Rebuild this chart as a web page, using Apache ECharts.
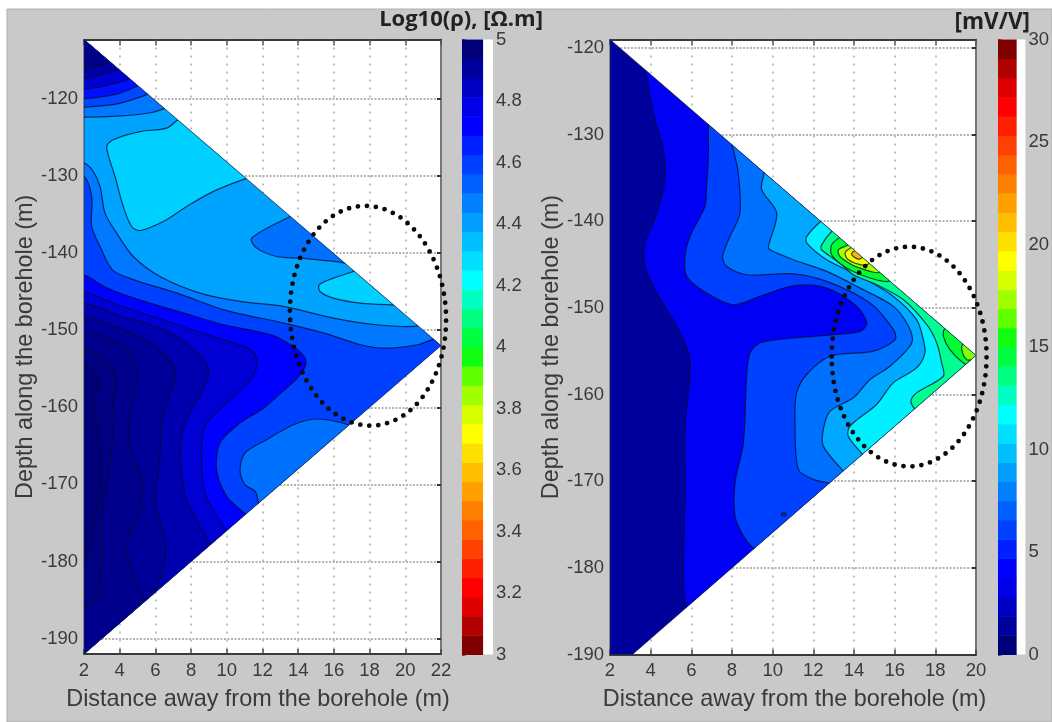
<!DOCTYPE html>
<html><head><meta charset="utf-8">
<style>html,body{margin:0;padding:0;background:#fff;overflow:hidden}#c{width:1052px;height:722px}</style>
<script src="https://cdn.jsdelivr.net/npm/echarts@6/dist/echarts.min.js"></script>
</head><body><div id="c"></div>
<script>
// ---- axes ----
const leftDepthTicks=[-190,-180,-170,-160,-150,-140,-130,-120];
const rightDepthTicks=[-190,-180,-170,-160,-150,-140,-130,-120];
const leftDepthRange=[-192,-112.3];
const rightDepthRange=[-190,-119.05];
const leftDistanceRange=[2,22];
const rightDistanceRange=[2,20];
const leftScaleRange=[3,5];
const rightScaleRange=[0,30];
// ---- colour scale, value order low to high on the right plot ----
const jetColors=['#000078','#00009c','#0000c4','#0000e8','#0000ff','#0020ff','#0040ff','#0060ff','#0080ff','#009fff','#00bfff','#00dfff','#00ffff','#00ffc0','#00ff80','#00ff40','#10ff10','#60ff00','#a0ff00','#d8ff00','#ffff00','#ffdf00','#ffbf00','#ff9f00','#ff8000','#ff6000','#ff4000','#ff2000','#ff0000','#df0000','#b00000','#800000'];
// ---- left plot domain and filled contour regions (distance m, depth m) ----
const leftDomain=[[2,-112.3],[22,-152],[2,-192]];
const lBase=[[1,-110],[24,-110],[24,-195],[1,-195]];
const lIslandA=[[7.5,-122.5],[6.63,-123.8],[5.14,-124.24],[3.64,-125.3],[3.27,-126.2],[3.74,-130.07],[4.2,-133.96],[4.67,-136.55],[5.14,-137.07],[6.44,-135.9],[7.75,-133.96],[9.25,-132],[11.02,-130.37],[11.8,-129.9],[9,-124]];
const lPatchB=[[14.3,-134.3],[13.54,-135.25],[11.39,-138.06],[11.67,-139.36],[12.79,-140.44],[14.1,-140.66],[16.1,-141.1],[17,-141.2],[16.6,-138]];
const lIslandC=[[17.8,-141.7],[17.09,-142.39],[15.97,-143.25],[15.18,-144.11],[15.22,-144.98],[15.97,-145.84],[17.46,-146.49],[19.24,-146.71],[20,-146.7],[18.5,-143.5]];
const lTopD=[[1,-122.4],[2,-122.38],[3.87,-122.25],[5.73,-121.8],[6.57,-121.2],[7.2,-120.5],[6,-112],[1,-110]];
const lTopE=[[1,-121.1],[2,-121.08],[3.87,-120.65],[5.64,-119.35],[6.4,-118.5],[5,-111],[1,-110]];
const lTopF=[[1,-120],[2,-120],[3.87,-119.35],[5.08,-118.27],[5.8,-117.5],[5,-111],[1,-110]];
const lTopG=[[1,-118.7],[2,-118.7],[3.12,-118.36],[4.52,-117.4],[5.2,-116.5],[4,-111],[1,-110]];
const lTopH=[[1,-117.3],[2,-117.3],[3.12,-116.76],[4.05,-116.1],[4.8,-115.3],[4,-111],[1,-110]];
const lTopI=[[1,-116.1],[2,-116.1],[3.03,-115.6],[3.8,-114.8],[3,-111],[1,-110]];
const lLowJ=[[1,-128.3],[2,-128.34],[2.52,-129.42],[2.9,-131.37],[3.18,-134.82],[3.83,-137.42],[4.76,-140.44],[6.26,-143.03],[8.5,-145.19],[10.74,-146.27],[13.17,-146.92],[15.97,-148.43],[18.4,-149.3],[20.45,-149.52],[21.5,-149],[24,-152],[21,-195],[1,-196]];
const lLowK=[[1,-130],[2,-130.07],[2.43,-132.66],[2.43,-136.55],[2.9,-139.14],[3.59,-142.17],[4.8,-143.47],[7.23,-145.2],[9.84,-147.36],[13.2,-149.08],[15.45,-150.38],[17.5,-151.89],[18.8,-152.33],[20.67,-151.89],[21.8,-151],[24,-150],[24,-154],[21,-195],[1,-196]];
const lPatchBottom=[[18,-164.5],[17.4,-163.2],[16.81,-162.26],[15.03,-161.52],[13.73,-162.26],[12.23,-164.2],[11.02,-165.93],[10.74,-168.09],[11.02,-170.04],[11.58,-170.9],[11.77,-172.33],[11.9,-174],[14,-176],[20,-170]];
const lLowL=[[1,-142.8],[2,-142.82],[3.12,-144.33],[4.8,-145.84],[7.6,-147.79],[9.84,-149.3],[12.46,-150.6],[13.58,-151.89],[14.33,-153.4],[14.42,-154.49],[13.95,-156.21],[13.02,-158.16],[12.08,-160.1],[10.74,-162.04],[9.62,-164.63],[9.43,-168.09],[9.99,-171.55],[11.02,-173.8],[11.6,-175],[11,-195],[1,-196]];
const lLowM=[[1,-145],[2,-144.98],[3.87,-146.71],[6.67,-148.87],[9.47,-151.03],[11.34,-152.54],[11.71,-154.27],[11.34,-156.43],[10.2,-159.02],[8.87,-162.04],[8.59,-165.07],[8.78,-171.1],[9.99,-176.1],[10.6,-178],[9,-195],[1,-196]];
const lLowN=[[1,-146.5],[2,-146.49],[3.87,-148],[6.67,-150.16],[8.54,-153.4],[9,-155.57],[8.54,-158.16],[7.75,-161.61],[7.4,-165],[7.75,-172],[9.06,-177.6],[9.6,-180],[8,-195],[1,-196]];
const lLowO=[[1,-148.2],[2,-148.22],[3.49,-149.3],[5.73,-151.68],[7.04,-154.7],[7.04,-156.86],[6.48,-160.32],[6.3,-164.21],[6.2,-168],[6,-172],[6.6,-178],[6.3,-182],[5.7,-185],[5.5,-187],[4,-195],[1,-196]];
const lLowP=[[1,-150.2],[2,-150.17],[3.12,-150.81],[4.61,-152.97],[4.99,-156],[4.71,-159.46],[4.52,-164.21],[5,-168],[5.3,-170],[5,-174],[4.4,-178],[4.8,-182],[5.4,-185.5],[5.5,-188],[3,-195],[1,-196]];
const lLowQ=[[1,-152.3],[2,-152.33],[3.12,-153.84],[3.77,-156.43],[3.59,-160.32],[3.59,-164.21],[3.4,-168],[3,-174],[3,-180],[2.8,-184],[2,-186.3],[1,-186.4]];
const lLowR=[[1,-154.3],[2,-154.27],[2.75,-156.43],[2.56,-159.45],[2.84,-164.21],[2.9,-170],[2.5,-176],[2,-180.5],[1,-181]];
const leftContours=[lBase,lIslandA,lPatchB,lIslandC,lTopD,lTopE,lTopF,lTopG,lTopH,lTopI,lLowJ,lLowK,lPatchBottom,lLowL,lLowM,lLowN,lLowO,lLowP,lLowQ,lLowR];
const leftContourColors=['#00a4ff','#00d0ff','#0070ff','#00d0ff','#0078ff','#0048ff','#0010ff','#0000d0','#0000a8','#000088','#0078ff','#0040ff','#0070ff','#0000ff','#0000d4','#0000b0','#000098','#00008c','#000082','#00007a'];
// ---- right plot domain and contour regions ----
const rightDomain=[[2,-119.05],[20,-155.5],[3.1,-190],[2,-190]];
const rBase=[[1,-117],[24,-117],[24,-192],[1,-192]];
const rBandA=[[3.7,-121],[3.84,-123.72],[4.13,-127.57],[4.62,-131.79],[4.7,-135.25],[4.3,-139.09],[3.72,-142.54],[3.72,-145.23],[4.3,-148.3],[5.28,-152.14],[5.93,-155.98],[5.69,-163.66],[5.69,-171.34],[5.61,-180.94],[5.69,-183.63],[6,-186],[8,-190],[24,-186],[24,-118],[5,-118]];
const rBandB=[[6.9,-126],[6.84,-129.1],[6.84,-132.56],[6.75,-136],[6.67,-138.3],[5.93,-141.77],[5.69,-144.07],[5.77,-146.38],[6.75,-148.3],[8.07,-149.65],[9.38,-148.69],[11.02,-147.46],[12.66,-147.73],[14.13,-149.84],[14.63,-151.76],[14.3,-152.72],[13,-153.1],[11.02,-153.49],[9.38,-154.06],[8.89,-155.21],[8.72,-157.9],[8.56,-165.58],[8.15,-170.2],[8.15,-174.03],[8.56,-176.33],[9.02,-177.68],[9.8,-179],[12,-182],[24,-180],[24,-124],[8,-124]];
const rBandC=[[7.9,-129.5],[8.1,-132.1],[8.31,-134.48],[8.39,-139.09],[7.9,-141.77],[7.54,-144.07],[7.74,-145.23],[8.72,-146.19],[11.02,-146.08],[12.66,-146.96],[14.79,-149.45],[15.94,-152.53],[16.02,-153.68],[14.95,-155],[12.82,-155.59],[11.67,-157.7],[11.18,-159.8],[11.1,-162.89],[11.26,-168.65],[12,-169.8],[12.66,-170.18],[13.6,-170.6],[15,-173],[24,-175],[24,-128],[9,-128]];
const rBandD=[[9.8,-133],[9.54,-134.9],[9.46,-136.4],[10.2,-139.09],[9.79,-142.93],[9.87,-143.31],[11.02,-144.46],[12.66,-145.8],[14.3,-147.73],[15.94,-149.84],[16.68,-152.14],[16.84,-154.06],[15.77,-156.74],[14.79,-158.28],[13.97,-160.39],[12.82,-161.93],[12.49,-164.04],[12.49,-165.96],[13.47,-168.84],[14.2,-170.8],[16,-175],[24,-175],[24,-132],[11,-132]];
const rBandE=[[13,-139],[12.41,-139.93],[11.68,-141.77],[11.68,-142.54],[12.66,-144.46],[14.3,-146.38],[15.94,-148.69],[17.08,-151.37],[17.41,-153.68],[17.49,-155.2],[17.08,-156.94],[15.93,-158.66],[15.11,-161.16],[13.8,-163.66],[13.72,-164.81],[14.38,-166.8],[15,-168.6],[17,-172],[24,-172],[24,-137],[14,-137]];
const rBandF=[[13.4,-140.4],[12.9,-141.2],[12.41,-142.74],[12.41,-143.31],[13.31,-144.85],[13.97,-146.19],[15.12,-147.34],[16.43,-149.07],[17.58,-151.95],[18.07,-154.06],[18.31,-156.37],[18.39,-157.9],[17.08,-159.82],[16.8,-160.78],[17,-161.74],[17.6,-163.5],[24,-165],[24,-139],[15,-139]];
const rPeakA=[[14,-141],[13.31,-141.85],[12.9,-142.73],[12.9,-143.89],[13.64,-145.42],[14.79,-146.57],[15.69,-146.96],[15.9,-146.2]];
const rPeakB=[[14,-142],[13.72,-142.73],[13.23,-143.31],[13.31,-144.08],[13.89,-145.04],[14.3,-145.42],[14.79,-145.8],[15.25,-145.92],[15.3,-144.9]];
const rPeakC=[[14.2,-142.8],[13.81,-143.12],[13.56,-143.7],[13.72,-144.46],[14.46,-145.1],[14.76,-144.85],[14.8,-144]];
const rPeakD=[[14.3,-143.3],[13.97,-143.5],[13.89,-143.89],[14.22,-144.39],[14.46,-144.08]];
const rLobeA=[[19,-152],[18.48,-152.33],[18.4,-153.3],[18.72,-154.83],[19.38,-156.37],[19.71,-156.56],[21,-155.5]];
const rLobeB=[[19.8,-154.5],[19.38,-154.06],[19.3,-154.83],[19.54,-155.98],[19.87,-155.98],[21,-155.5]];
const rSpeck=[[10.45,-173.7],[10.65,-173.7],[10.65,-174],[10.45,-174]];
const rightContours=[rBase,rBandA,rBandB,rBandC,rBandD,rBandE,rBandF,rPeakA,rPeakB,rPeakC,rPeakD,rLobeA,rLobeB,rSpeck];
const rightContourColors=['#00009c','#0000f4','#0040ff','#0070ff','#00a8ff','#00f0ff','#00ff90','#00ff30','#a8ff00','#f0ff00','#ffb400','#00ff30','#80ff00','#0030c0'];
// ---- dotted annotation ellipses: centre x, centre y, radius x, radius y ----
const leftEllipse=[17.91,-148.13,4.37,14.26];
const rightEllipse=[16.71,-155.63,3.81,12.67];
// ---- texts ----
const xTitle='Distance away from the borehole (m)';
const yTitle='Depth along the borehole (m)';
const leftUnit='Log10(ρ), [Ω.m]';
const rightUnit='[mV/V]';

const FONT='"Liberation Sans",Arial,sans-serif';
const TXT='#3a3a3a';
function contourSeries(contours,colors,domain,xi,yi){
  return {type:'custom',xAxisIndex:xi,yAxisIndex:yi,clip:false,silent:true,z:2,animation:false,
    data:contours.map((c,i)=>[c[0][0],c[0][1],i]),
    encode:{x:0,y:1},
    renderItem(p,api){
      const i=api.value(2);
      return {type:'group',
        clipPath:{type:'polygon',shape:{points:domain.map(d=>api.coord(d))}},
        children:[{type:'polygon',shape:{points:contours[i].map(d=>api.coord(d)),smooth:0.3},
          style:{fill:colors[i],stroke:i?'rgba(0,10,50,.75)':'none',lineWidth:1.2}}]};
    }};
}
function edgeSeries(domain,xi,yi){
  return {type:'custom',xAxisIndex:xi,yAxisIndex:yi,clip:false,silent:true,z:3,animation:false,
    data:[[domain[0][0],domain[0][1]]],encode:{x:0,y:1},
    renderItem(p,api){
      return {type:'polygon',shape:{points:domain.map(d=>api.coord(d))},style:{fill:'none',stroke:'rgba(30,40,70,.8)',lineWidth:1}};
    }};
}
function ellipseSeries(e,rot,xi,yi){
  return {type:'custom',xAxisIndex:xi,yAxisIndex:yi,clip:false,silent:true,z:5,animation:false,
    data:[e],encode:{x:0,y:1},
    renderItem(p,api){
      const c=api.coord([api.value(0),api.value(1)]);
      const s=api.size([api.value(2),api.value(3)]);
      return {type:'ellipse',rotation:rot,originX:c[0],originY:c[1],
        shape:{cx:c[0],cy:c[1],rx:s[0],ry:s[1]},
        style:{fill:'none',stroke:'#0a0a0a',lineWidth:4.8,lineCap:'round',lineDash:[0,9]}};
    }};
}
function barSeries(range,colors,xi,yi){
  return {type:'custom',xAxisIndex:xi,yAxisIndex:yi,clip:false,silent:true,z:2,animation:false,
    data:colors.map((c,i)=>[0,range[0]+(range[1]-range[0])*i/colors.length,range[0]+(range[1]-range[0])*(i+1)/colors.length,i]),
    encode:{x:0,y:1},
    renderItem(p,api){
      const a=api.coord([0,api.value(1)]),b=api.coord([0.68,api.value(2)]);
      return {type:'rect',shape:{x:a[0],y:b[1],width:b[0]-a[0],height:a[1]-b[1]+.5},style:{fill:colors[api.value(3)]}};
    }};
}
const lblStyle={color:TXT,fontFamily:FONT,fontSize:18.5};
const hLine={show:true,lineStyle:{color:'#9a9a9a',width:1.6,type:[2,1.5]}};
const vLine={show:true,lineStyle:{color:'#bdbdbd',width:2,type:[2,6]}};
function plotXAxes(gi,range,titlePad){return [
  {type:'value',gridIndex:gi,position:'bottom',min:range[0],max:range[1],interval:2,
   axisLine:{show:true,onZero:false,lineStyle:{color:'#3a3a3a',width:2}},
   axisTick:{show:true,inside:true,length:5,lineStyle:{color:'#444',width:1.5}},
   axisLabel:{...lblStyle,margin:7,hideOverlap:false},splitLine:vLine,
   name:xTitle,nameLocation:'middle',nameGap:34,nameTextStyle:{color:TXT,fontFamily:FONT,fontSize:23.4,padding:titlePad}},
  {type:'value',gridIndex:gi,position:'top',min:range[0],max:range[1],interval:2,
   axisLine:{show:true,onZero:false,lineStyle:{color:'#3a3a3a',width:2}},
   axisTick:{show:true,inside:true,length:6,lineStyle:{color:'#555',width:1.5}},
   axisLabel:{show:false},splitLine:{show:false}}
];}
function plotYAxes(gi,range,ticks,gap){return [
  {type:'value',gridIndex:gi,position:'left',min:range[0],max:range[1],
   axisLine:{show:false,onZero:false},
   axisTick:{show:false,customValues:ticks},
   axisLabel:{...lblStyle,margin:6,customValues:ticks,hideOverlap:false},splitLine:hLine,
   name:yTitle,nameLocation:'middle',nameGap:gap,nameRotate:90,nameTextStyle:{color:TXT,fontFamily:FONT,fontSize:23.4}},
  {type:'value',gridIndex:gi,position:'right',min:range[0],max:range[1],
   axisLine:{show:true,onZero:false,lineStyle:{color:'#777',width:2}},
   axisTick:{show:true,inside:true,length:4,customValues:ticks,lineStyle:{color:'#333',width:2}},
   axisLabel:{show:false},splitLine:{show:false}}
];}
function barAxes(gi,range,step){return {
  x:{type:'value',gridIndex:gi,min:0,max:1,show:false},
  y:[{type:'value',gridIndex:gi,position:'right',min:range[0],max:range[1],interval:step,
      axisLine:{show:false},axisTick:{show:true,length:4,lineStyle:{color:'#666',width:1.5}},
      axisLabel:{...lblStyle,margin:3,hideOverlap:false},splitLine:{show:false}},
     {type:'value',gridIndex:gi,position:'left',min:range[0],max:range[1],interval:step,
      axisLine:{show:false},axisTick:{show:true,inside:true,length:2,lineStyle:{color:'#444',width:1.5}},
      axisLabel:{show:false},splitLine:{show:false}}]
};}
const bL=barAxes(1,leftScaleRange,0.2), bR=barAxes(3,rightScaleRange,5);
const opt={
  animation:false,
  backgroundColor:'#ffffff',
  graphic:[{type:'rect',z:-5,silent:true,shape:{x:7,y:9,width:1045,height:713},style:{fill:'#c9c9c9',stroke:'#b0b0b0',lineWidth:1}}],
  title:[
    {text:leftUnit,right:509,top:9,padding:0,textStyle:{color:'#222',fontFamily:'"Open Sans","Noto Sans",sans-serif',fontWeight:'bold',fontSize:22}},
    {text:rightUnit,right:22,top:11,padding:0,textStyle:{color:'#222',fontFamily:'"Open Sans","Noto Sans",sans-serif',fontWeight:'bold',fontSize:22.5}}
  ],
  grid:[
    {left:84,top:39.5,width:357,height:614.5,backgroundColor:'#fff',show:true,borderWidth:0},
    {left:462,top:39.5,width:31,height:615,backgroundColor:'#fff',show:true,borderWidth:0},
    {left:610,top:39.5,width:366,height:615,backgroundColor:'#fff',show:true,borderWidth:0},
    {left:998,top:39.5,width:31,height:615,backgroundColor:'#fff',show:true,borderWidth:0}
  ],
  xAxis:[...plotXAxes(0,leftDistanceRange,[0,9,0,0]),bL.x,...plotXAxes(2,rightDistanceRange,[0,0,0,3]),bR.x],
  yAxis:[...plotYAxes(0,leftDepthRange,leftDepthTicks,45),...bL.y,...plotYAxes(2,rightDepthRange,rightDepthTicks,45),...bR.y],
  series:[
    contourSeries(leftContours,leftContourColors,leftDomain,0,0),
    edgeSeries(leftDomain,0,0),
    ellipseSeries(leftEllipse,0.05,0,0),
    barSeries(leftScaleRange,[...jetColors].reverse(),2,2),
    contourSeries(rightContours,rightContourColors,rightDomain,3,4),
    edgeSeries(rightDomain,3,4),
    ellipseSeries(rightEllipse,0,3,4),
    barSeries(rightScaleRange,jetColors,5,6)
  ]
};
echarts.init(document.getElementById('c'),null,{renderer:'canvas'}).setOption(opt);
</script></body></html>
